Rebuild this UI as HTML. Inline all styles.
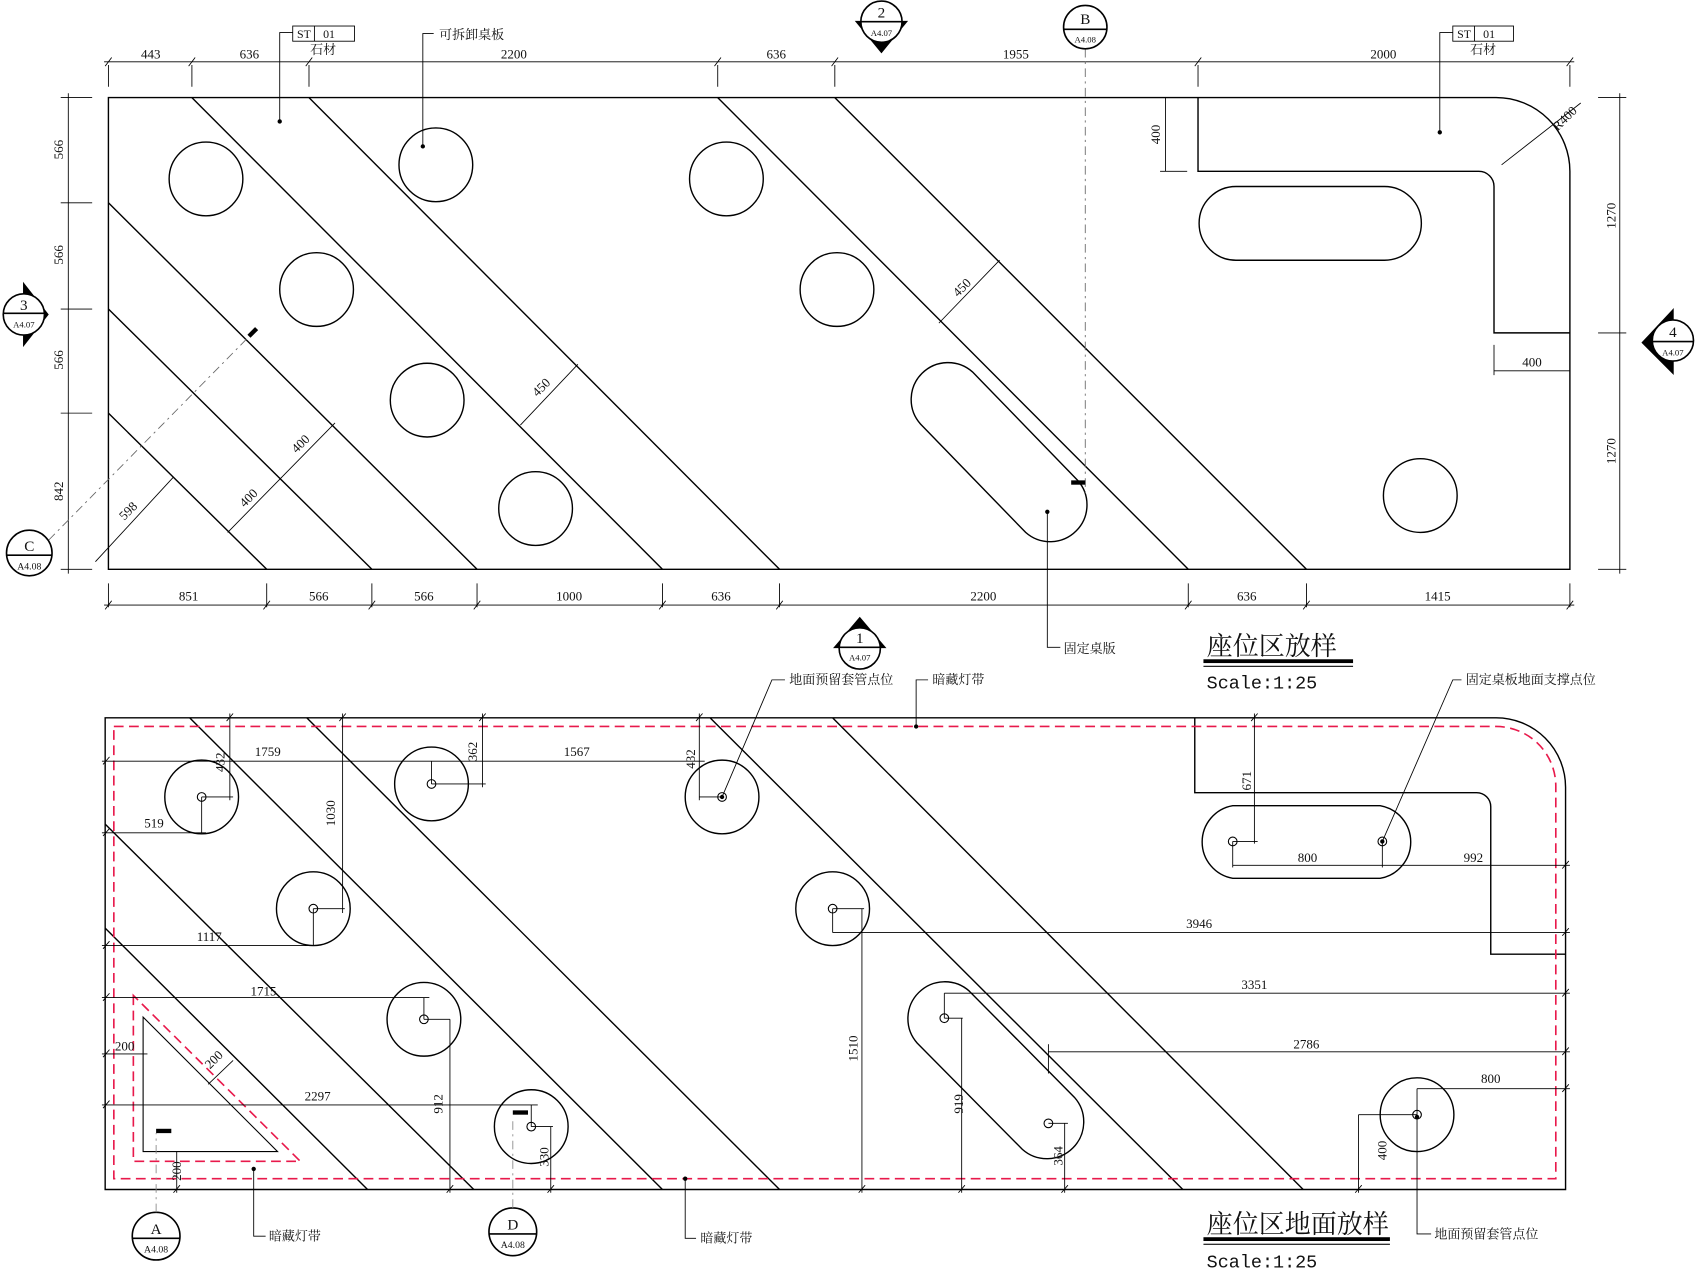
<!DOCTYPE html>
<html><head><meta charset="utf-8"><style>
html,body{margin:0;padding:0;background:#fff;}
svg{display:block;}
text{font-family:"Liberation Serif","Noto Serif CJK SC","Noto Sans CJK SC",serif;fill:#111;}
.t{font-size:12px;text-anchor:middle;}
.c{font-size:12px;}
</style></head><body>
<svg width="1700" height="1273" viewBox="0 0 1568 1174" preserveAspectRatio="none" xmlns="http://www.w3.org/2000/svg">
<g fill="none" stroke="#000" stroke-width="1.3">
<path d="M100,90 H1380 A68,68 0 0 1 1448,158 V525 H100 Z"/>
<path d="M1105,90 V158 H1364 A14,14 0 0 1 1378,172 V307 H1448"/>
<line x1="177" y1="90" x2="611" y2="525"/>
<line x1="285" y1="90" x2="719" y2="525"/>
<line x1="100" y1="187" x2="440" y2="525"/>
<line x1="100" y1="285" x2="343" y2="525"/>
<line x1="100" y1="381" x2="246" y2="525"/>
<line x1="662" y1="90" x2="1096" y2="525"/>
<line x1="770" y1="90" x2="1205" y2="525"/>
<circle cx="190" cy="165" r="34"/><circle cx="292" cy="267" r="34"/><circle cx="394" cy="369" r="34"/><circle cx="494" cy="469" r="34"/>
<circle cx="402" cy="152" r="34"/><circle cx="670" cy="165" r="34"/><circle cx="772" cy="267" r="34"/><circle cx="1310" cy="457" r="34"/>
<path d="M1140,172 H1277 A34,34 0 0 1 1277,240 H1140 A34,34 0 0 1 1140,172 Z"/>
<path d="M849,391 L946,491 A34,34 0 0 0 994,443 L897,343 A34,34 0 0 0 849,391 Z"/>
</g>
<g fill="none" stroke="#000" stroke-width="0.8">
<line x1="96" y1="57" x2="1452" y2="57"/>
<path d="M100,60V80 M177,60V80 M285,60V80 M662,60V80 M770,60V80 M1105,60V80 M1448,60V80"/>
<path d="M97,61l6,-8 M174,61l6,-8 M282,61l6,-8 M659,61l6,-8 M767,61l6,-8 M1102,61l6,-8 M1445,61l6,-8"/>
<line x1="96" y1="558" x2="1452" y2="558"/>
<path d="M100,538V560 M246,538V560 M343,538V560 M440,538V560 M611,538V560 M719,538V560 M1096,538V560 M1205,538V560 M1448,538V560"/>
<path d="M97,562l6,-8 M243,562l6,-8 M340,562l6,-8 M437,562l6,-8 M608,562l6,-8 M716,562l6,-8 M1093,562l6,-8 M1202,562l6,-8 M1445,562l6,-8"/>
<line x1="63" y1="86" x2="63" y2="529"/>
<path d="M56,90H85 M56,187H85 M56,285H85 M56,381H85 M56,525H85"/>
<line x1="1494" y1="86" x2="1494" y2="529"/>
<path d="M1474,90H1500 M1474,307H1500 M1474,525H1500"/>
<line x1="1075" y1="90" x2="1075" y2="158"/><path d="M1070,90H1085 M1070,158H1095"/>
<line x1="1378" y1="342" x2="1448" y2="342"/><path d="M1378,318V346"/>
<line x1="1385" y1="152" x2="1458" y2="95"/>
<line x1="866" y1="298" x2="922" y2="240"/>
<line x1="480" y1="392" x2="533" y2="336"/>
<line x1="210" y1="491" x2="309" y2="390"/>
<line x1="88" y1="518" x2="160" y2="440"/>
<path d="M258,112V30H270"/><path d="M390,135V31H400"/><path d="M1328,122V30H1340"/>
<path d="M966,472V597H978"/>
<rect x="270" y="24" width="57" height="14"/><rect x="1340" y="24" width="56" height="14"/>
<line x1="290" y1="24" x2="290" y2="38"/><line x1="1360" y1="24" x2="1360" y2="38"/>
<line x1="1001" y1="45" x2="1001" y2="455" stroke-dasharray="8,4,2,4" stroke="#666"/>
<line x1="45" y1="498" x2="235" y2="305" stroke-dasharray="8,4,2,4" stroke="#666"/>
</g>
<g fill="#000">
<circle cx="258" cy="112" r="2"/><circle cx="390" cy="135" r="2"/><circle cx="1328" cy="122" r="2"/><circle cx="966" cy="472" r="2"/>
<rect x="230" y="303" width="10" height="4" transform="rotate(-45 236 308)"/>
<rect x="988" y="443" width="13" height="4"/>
</g>
<g stroke="#000" fill="#fff" stroke-width="1.5">
<polygon points="790,20 836,20 813,48" fill="#000"/>
<circle cx="813" cy="20" r="19"/><line x1="794" y1="20" x2="832" y2="20"/>
<circle cx="1001" cy="25" r="20"/><line x1="981" y1="27" x2="1021" y2="27"/>
<polygon points="22,262 44,290 22,318" fill="#000"/>
<circle cx="22" cy="290" r="19"/><line x1="3" y1="289" x2="41" y2="289"/>
<polygon points="1543,286 1515,316 1543,344" fill="#000"/>
<circle cx="1543" cy="314" r="19"/><line x1="1524" y1="315" x2="1562" y2="315"/>
<circle cx="27" cy="510" r="21"/><line x1="6" y1="512" x2="48" y2="512"/>
<polygon points="770,597 816,597 793,570" fill="#000"/>
<circle cx="793" cy="598" r="19"/><line x1="774" y1="597" x2="812" y2="597"/>
<circle cx="144" cy="1140" r="22"/><line x1="122" y1="1142" x2="166" y2="1142"/>
<circle cx="473" cy="1136" r="22"/><line x1="451" y1="1138" x2="495" y2="1138"/>
</g>
<g>
<text x="813" y="16" class="t" style="font-size:14px">2</text><text x="813" y="33" class="t" style="font-size:8px">A4.07</text>
<text x="1001" y="22" class="t" style="font-size:14px">B</text><text x="1001" y="39" class="t" style="font-size:8px">A4.08</text>
<text x="22" y="286" class="t" style="font-size:14px">3</text><text x="22" y="302" class="t" style="font-size:8px">A4.07</text>
<text x="1543" y="311" class="t" style="font-size:14px">4</text><text x="1543" y="328" class="t" style="font-size:8px">A4.07</text>
<text x="27" y="508" class="t" style="font-size:14px">C</text><text x="27" y="525" class="t" style="font-size:9px">A4.08</text>
<text x="793" y="593" class="t" style="font-size:14px">1</text><text x="793" y="609" class="t" style="font-size:8px">A4.07</text>
<text x="144" y="1138" class="t" style="font-size:14px">A</text><text x="144" y="1155" class="t" style="font-size:9px">A4.08</text>
<text x="473" y="1134" class="t" style="font-size:14px">D</text><text x="473" y="1151" class="t" style="font-size:9px">A4.08</text>
</g>
<g>
<text x="139" y="54" class="t">443</text><text x="230" y="54" class="t">636</text><text x="474" y="54" class="t">2200</text><text x="716" y="54" class="t">636</text><text x="937" y="54" class="t">1955</text><text x="1276" y="54" class="t">2000</text>
<text x="174" y="554" class="t">851</text><text x="294" y="554" class="t">566</text><text x="391" y="554" class="t">566</text><text x="525" y="554" class="t">1000</text><text x="665" y="554" class="t">636</text><text x="907" y="554" class="t">2200</text><text x="1150" y="554" class="t">636</text><text x="1326" y="554" class="t">1415</text>
<text class="t" transform="translate(58,138) rotate(-90)">566</text><text class="t" transform="translate(58,235) rotate(-90)">566</text><text class="t" transform="translate(58,332) rotate(-90)">566</text><text class="t" transform="translate(58,453) rotate(-90)">842</text>
<text class="t" transform="translate(1490,199) rotate(-90)">1270</text><text class="t" transform="translate(1490,416) rotate(-90)">1270</text>
<text class="t" transform="translate(1070,124) rotate(-90)">400</text>
<text x="1413" y="338" class="t">400</text>
<text class="t" transform="translate(1446,112) rotate(-45)">R400</text>
<text class="t" transform="translate(890,268) rotate(-45)">450</text>
<text class="t" transform="translate(502,360) rotate(-45)">450</text>
<text class="t" transform="translate(280,412) rotate(-45)">400</text>
<text class="t" transform="translate(232,462) rotate(-45)">400</text>
<text class="t" transform="translate(121,474) rotate(-45)">598</text>
<text x="298" y="35" class="c" style="font-size:11px">01</text><text x="274" y="35" class="c" style="font-size:11px">ST</text><text x="298" y="50" class="t">石材</text>
<text x="1368" y="35" class="c" style="font-size:11px">01</text><text x="1344" y="35" class="c" style="font-size:11px">ST</text><text x="1368" y="50" class="t">石材</text>
<text x="405" y="36" class="c">可拆卸桌板</text>
<text x="981" y="602" class="c">固定桌版</text>
</g>
<text x="1113" y="604" style="font-size:24px">座位区放样</text>
<rect x="1110" y="608" width="138" height="3.5" fill="#000"/><rect x="1110" y="614" width="138" height="1" fill="#000"/>
<text x="1113" y="635" style="font-size:17px;font-family:'Liberation Mono',monospace">Scale:1:25</text>

<g fill="none" stroke="#000" stroke-width="1.3">
<path d="M97,662 H1380 A64,64 0 0 1 1444,726 V1097 H97 Z"/>
<path d="M1102,662 V731 H1362 A13,13 0 0 1 1375,744 V880 H1444"/>
<line x1="175" y1="662" x2="611" y2="1097"/>
<line x1="283" y1="662" x2="719" y2="1097"/>
<line x1="655" y1="662" x2="1091" y2="1097"/>
<line x1="768" y1="662" x2="1202" y2="1097"/>
<line x1="97" y1="760" x2="437" y2="1097"/>
<line x1="97" y1="856" x2="339" y2="1097"/>
<path d="M132,938 V1062 H256 Z" stroke-width="1"/>
<circle cx="186" cy="735" r="34"/><circle cx="398" cy="723" r="34"/><circle cx="666" cy="735" r="34"/><circle cx="289" cy="838" r="34"/><circle cx="768" cy="838" r="34"/><circle cx="391" cy="940" r="34"/><circle cx="490" cy="1039" r="34"/><circle cx="1307" cy="1028" r="34"/>
<path d="M846,962 L943,1060 A34,34 0 0 0 991,1012 L894,914 A34,34 0 0 0 846,962 Z" fill="#fff"/>
<path d="M1137,743 H1273 A34,34 0 0 1 1273,810 H1137 A34,34 0 0 1 1137,743 Z"/>
</g>
<g fill="#fff" stroke="#000" stroke-width="1">
<circle cx="186" cy="735" r="4"/><circle cx="398" cy="723" r="4"/><circle cx="666" cy="735" r="4"/><circle cx="289" cy="838" r="4"/><circle cx="768" cy="838" r="4"/><circle cx="391" cy="940" r="4"/><circle cx="490" cy="1039" r="4"/><circle cx="1137" cy="776" r="4"/><circle cx="1275" cy="776" r="4"/><circle cx="871" cy="939" r="4"/><circle cx="967" cy="1036" r="4"/><circle cx="1307" cy="1028" r="4"/>
</g>
<g fill="none" stroke="#e8194b" stroke-width="1.5" stroke-dasharray="9,5">
<path d="M105,670 H1380 A55,55 0 0 1 1435,725 V1087 H105 Z"/>
<path d="M123,918 V1071 H277 Z"/>
</g>
<g fill="none" stroke="#000" stroke-width="0.8">
<line x1="94" y1="702" x2="650" y2="702"/>
<line x1="212" y1="658" x2="212" y2="738"/><line x1="186" y1="735" x2="215" y2="735"/>
<line x1="445" y1="658" x2="445" y2="726"/><line x1="398" y1="723" x2="448" y2="723"/><line x1="398" y1="702" x2="398" y2="723"/>
<line x1="645" y1="658" x2="645" y2="738"/><line x1="645" y1="735" x2="666" y2="735"/>
<line x1="94" y1="768" x2="190" y2="768"/><line x1="186" y1="735" x2="186" y2="768"/>
<line x1="316" y1="658" x2="316" y2="842"/><line x1="289" y1="838" x2="318" y2="838"/>
<line x1="94" y1="872" x2="292" y2="872"/><line x1="289" y1="838" x2="289" y2="872"/>
<line x1="94" y1="920" x2="396" y2="920"/><line x1="391" y1="920" x2="391" y2="940"/><line x1="391" y1="940" x2="415" y2="940"/>
<line x1="415" y1="940" x2="415" y2="1100"/>
<line x1="94" y1="1019" x2="496" y2="1019"/><line x1="490" y1="1019" x2="490" y2="1039"/><line x1="490" y1="1039" x2="510" y2="1039"/>
<line x1="508" y1="1039" x2="508" y2="1100"/>
<line x1="94" y1="972" x2="136" y2="972"/>
<line x1="163" y1="1062" x2="163" y2="1100"/>
<line x1="192" y1="1000" x2="215" y2="978"/>
<line x1="795" y1="838" x2="795" y2="1100"/><line x1="768" y1="838" x2="797" y2="838"/><line x1="768" y1="838" x2="768" y2="860"/>
<line x1="768" y1="860" x2="1448" y2="860"/>
<line x1="871" y1="916" x2="1448" y2="916"/><line x1="871" y1="916" x2="871" y2="939"/><line x1="871" y1="939" x2="888" y2="939"/>
<line x1="887" y1="939" x2="887" y2="1100"/>
<line x1="967" y1="970" x2="1448" y2="970"/><line x1="967" y1="963" x2="967" y2="990"/>
<line x1="982" y1="1036" x2="982" y2="1100"/><line x1="967" y1="1036" x2="985" y2="1036"/>
<line x1="1307" y1="1004" x2="1448" y2="1004"/><line x1="1307" y1="1004" x2="1307" y2="1028"/>
<line x1="1253" y1="1028" x2="1253" y2="1100"/><line x1="1253" y1="1028" x2="1307" y2="1028"/>
<line x1="1137" y1="798" x2="1448" y2="798"/><line x1="1137" y1="776" x2="1137" y2="800"/><line x1="1275" y1="776" x2="1275" y2="800"/>
<line x1="1157" y1="658" x2="1157" y2="778"/><line x1="1137" y1="776" x2="1160" y2="776"/>
<path d="M95,705l6,-7 M95,771l6,-7 M95,875l6,-7 M95,923l6,-7 M95,975l6,-7 M95,1022l6,-7 M1441,801l6,-7 M1441,863l6,-7 M1441,919l6,-7 M1441,973l6,-7 M1441,1007l6,-7 M412,1100l6,-7 M505,1100l6,-7 M792,1100l6,-7 M884,1100l6,-7 M979,1100l6,-7 M1250,1100l6,-7 M160,1100l6,-7 M209,665l6,-7 M442,665l6,-7 M642,665l6,-7 M313,665l6,-7 M1154,665l6,-7"/>
<path d="M666,735 L712,627 H724"/><path d="M845,670 V627 H856"/><path d="M1275,776 L1340,627 H1348"/>
<path d="M234,1078 V1140 H245"/><path d="M632,1087 V1142 H642"/><path d="M1307,1028 V1138 H1320"/>
<line x1="144" y1="1118" x2="144" y2="1045" stroke-dasharray="8,4,2,4" stroke="#888"/>
<line x1="473" y1="1114" x2="473" y2="1032" stroke-dasharray="8,4,2,4" stroke="#888"/>
</g>
<g fill="#000">
<circle cx="845" cy="670" r="2"/><circle cx="234" cy="1078" r="2"/><circle cx="632" cy="1087" r="2"/><circle cx="1275" cy="776" r="2"/><circle cx="666" cy="735" r="2"/><circle cx="1307" cy="1030" r="2"/>
<rect x="144" y="1041" width="14" height="4"/><rect x="473" y="1024" width="14" height="4"/>
</g>
<g>
<text x="247" y="697" class="t">1759</text><text x="532" y="697" class="t">1567</text>
<text class="t" transform="translate(207,703) rotate(-90)">432</text><text class="t" transform="translate(440,693) rotate(-90)">362</text><text class="t" transform="translate(641,700) rotate(-90)">432</text>
<text x="142" y="763" class="t">519</text>
<text class="t" transform="translate(309,750) rotate(-90)">1030</text>
<text x="193" y="868" class="t">1117</text><text x="243" y="918" class="t">1715</text><text x="293" y="1015" class="t">2297</text>
<text x="115" y="969" class="t">200</text><text class="t" transform="translate(200,980) rotate(-45)">200</text><text class="t" transform="translate(167,1080) rotate(-90)">200</text>
<text class="t" transform="translate(408,1018) rotate(-90)">912</text><text class="t" transform="translate(506,1067) rotate(-90)">330</text>
<text class="t" transform="translate(791,967) rotate(-90)">1510</text><text class="t" transform="translate(888,1018) rotate(-90)">919</text><text class="t" transform="translate(980,1066) rotate(-90)">364</text>
<text class="t" transform="translate(1279,1061) rotate(-90)">400</text><text class="t" transform="translate(1154,720) rotate(-90)">671</text>
<text x="1106" y="856" class="t">3946</text><text x="1157" y="912" class="t">3351</text><text x="1205" y="967" class="t">2786</text><text x="1375" y="999" class="t">800</text>
<text x="1359" y="795" class="t">992</text><text x="1206" y="795" class="t">800</text>
<text x="728" y="631" class="c">地面预留套管点位</text><text x="860" y="631" class="c">暗藏灯带</text><text x="1352" y="631" class="c">固定桌板地面支撑点位</text>
<text x="248" y="1144" class="c">暗藏灯带</text><text x="646" y="1146" class="c">暗藏灯带</text><text x="1323" y="1142" class="c">地面预留套管点位</text>
</g>
<text x="1113" y="1137" style="font-size:24px">座位区地面放样</text>
<rect x="1110" y="1141" width="172" height="3.5" fill="#000"/><rect x="1110" y="1147" width="172" height="1" fill="#000"/>
<text x="1113" y="1169" style="font-size:17px;font-family:'Liberation Mono',monospace">Scale:1:25</text>
</svg>
</body></html>
